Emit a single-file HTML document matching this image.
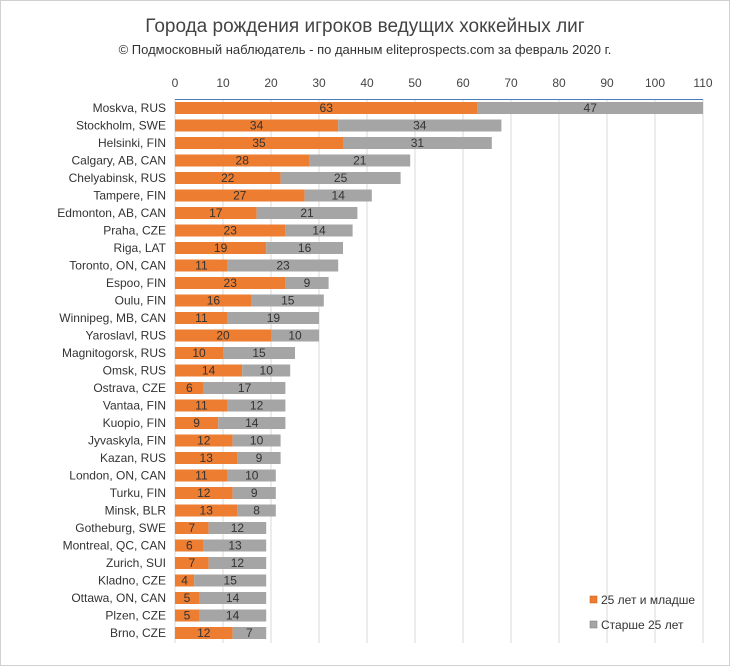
<!DOCTYPE html>
<html><head><meta charset="utf-8">
<style>
body{margin:0;background:#fff;}
svg{display:block;font-family:"Liberation Sans","Noto Sans CJK SC",sans-serif;}
</style></head>
<body>
<svg id="chart" width="730" height="666" xmlns="http://www.w3.org/2000/svg">
<rect x="0.5" y="0.5" width="729" height="665" fill="#fff" stroke="#d0d0d0"/>
<text x="365" y="32" text-anchor="middle" font-size="19" fill="#444">Города рождения игроков ведущих хоккейных лиг</text>
<text x="365" y="54" text-anchor="middle" font-size="13" fill="#333">© Подмосковный наблюдатель - по данным eliteprospects.com за февраль 2020 г.</text>
<g id="grid"></g><g id="bars"></g><g id="labels"></g>
<g>
<rect x="590" y="596" width="7" height="7" fill="#ed7d31" stroke="#c05a10" stroke-width="0.5"/>
<text x="601" y="604" font-size="12" fill="#333">25 лет и младше</text>
<rect x="590" y="621" width="7" height="7" fill="#a5a5a5" stroke="#777" stroke-width="0.5"/>
<text x="601" y="629" font-size="12" fill="#333">Старше 25 лет</text>
</g>
</svg>
<script>
const cities=["Moskva, RUS","Stockholm, SWE","Helsinki, FIN","Calgary, AB, CAN","Chelyabinsk, RUS","Tampere, FIN","Edmonton, AB, CAN","Praha, CZE","Riga, LAT","Toronto, ON, CAN","Espoo, FIN","Oulu, FIN","Winnipeg, MB, CAN","Yaroslavl, RUS","Magnitogorsk, RUS","Omsk, RUS","Ostrava, CZE","Vantaa, FIN","Kuopio, FIN","Jyvaskyla, FIN","Kazan, RUS","London, ON, CAN","Turku, FIN","Minsk, BLR","Gotheburg, SWE","Montreal, QC, CAN","Zurich, SUI","Kladno, CZE","Ottawa, ON, CAN","Plzen, CZE","Brno, CZE"];
const young=[63,34,35,28,22,27,17,23,19,11,23,16,11,20,10,14,6,11,9,12,13,11,12,13,7,6,7,4,5,5,12];
const older=[47,34,31,21,25,14,21,14,16,23,9,15,19,10,15,10,17,12,14,10,9,10,9,8,12,13,12,15,14,14,7];
const ticks=[0,10,20,30,40,50,60,70,80,90,100,110];
const NS="http://www.w3.org/2000/svg";
const x=v=>175+v*4.8;
const y=i=>108+i*17.5;
function mk(t,a,p){const e=document.createElementNS(NS,t);for(const k in a)e.setAttribute(k,a[k]);p.appendChild(e);return e;}
const grid=document.getElementById('grid'),bars=document.getElementById('bars'),labels=document.getElementById('labels');
ticks.forEach(t=>{
 const l=mk('line',{x1:x(t),x2:x(t),y1:99,y2:643,stroke:'#d9d9d9','stroke-width':1},grid);
 
 
 const tx=mk('text',{x:x(t),y:87,'text-anchor':'middle','font-size':12,fill:'#444'},grid);
 tx.textContent=t;
 
 
});
const ax=mk('line',{x1:175,x2:703,y1:99.5,y2:99.5,stroke:'#4a7ebb','stroke-width':1},grid);


cities.forEach((c,i)=>{
 const cy=y(i);
 const lb=mk('text',{x:166,y:cy+4,'text-anchor':'end','font-size':12,fill:'#333'},labels);
 lb.textContent=c;
 
 
 const b1=mk('rect',{x:x(0),y:cy-6,width:x(young[i])-x(0),height:12,fill:'#ed7d31'},bars);
 
 
 const b2=mk('rect',{x:x(young[i]),y:cy-6,width:x(young[i]+older[i])-x(young[i]),height:12,fill:'#a5a5a5'},bars);
 
 
 const v1=mk('text',{x:(x(0)+x(young[i]))/2,y:cy+4,'text-anchor':'middle','font-size':12,fill:'#333'},labels);
 v1.textContent=young[i];
 
 
 const v2=mk('text',{x:(x(young[i])+x(young[i]+older[i]))/2,y:cy+4,'text-anchor':'middle','font-size':12,fill:'#333'},labels);
 v2.textContent=older[i];
 
 
});
</script>
</body></html>
